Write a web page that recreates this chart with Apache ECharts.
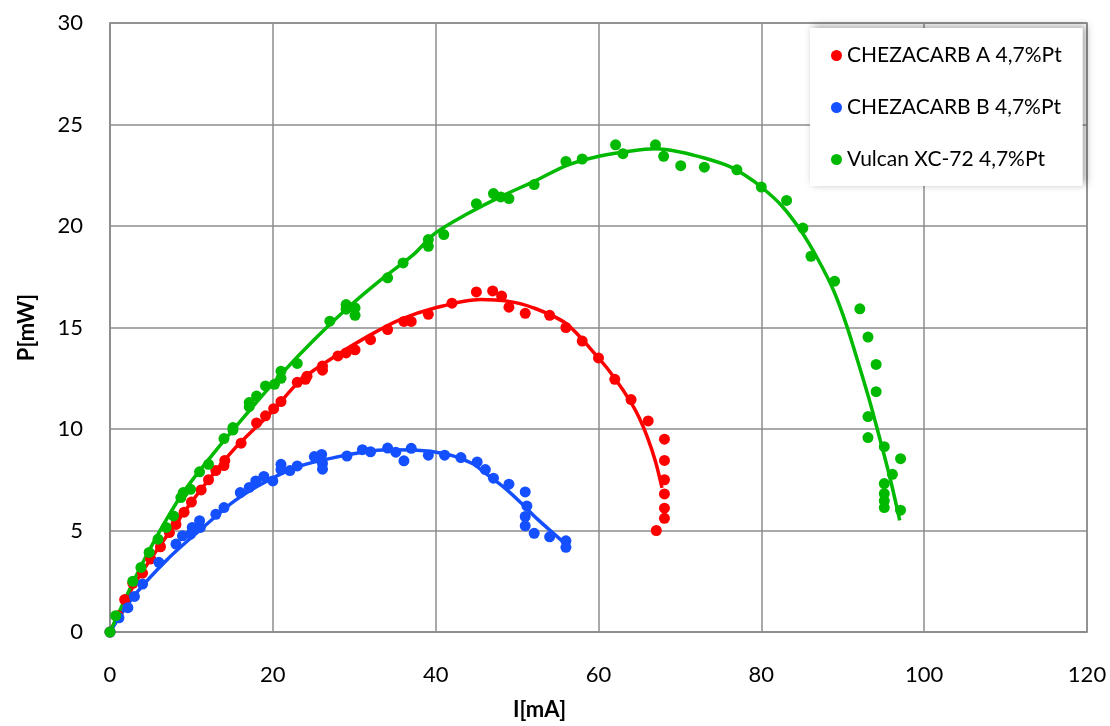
<!DOCTYPE html>
<html>
<head>
<meta charset="utf-8">
<script src="https://cdn.jsdelivr.net/npm/echarts@6/dist/echarts.min.js"></script>
<style>
  html, body { margin: 0; padding: 0; background: #ffffff; }
  #chart { width: 1110px; height: 726px; }
</style>
</head>
<body>
<div id="chart"></div>
<script>
// ---- axis ticks ----
const xMin = 0, xMax = 120, xStep = 20;
const yMin = 0, yMax = 30, yStep = 5;

// ---- series names ----
const seriesNames = ['CHEZACARB A 4,7%Pt', 'CHEZACARB B 4,7%Pt', 'Vulcan XC-72 4,7%Pt'];
const seriesColors = ['#ff0000', '#1450ff', '#00b900'];

// ---- measured points [I mA, P mW] ----
const redPts = [
  [0,0],[1,0.8],[1.8,1.6],[2.8,2.4],[4,2.9],[5,3.6],[6.2,4.2],[7.3,4.9],[8.1,5.3],[8.1,5.6],
  [9.1,5.9],[10,6.4],[11.2,7.0],[12.1,7.5],[13,7.95],[14,8.2],[14.1,8.45],[16.1,9.3],[18,10.3],
  [19.1,10.65],[20.1,11.0],[21,11.35],[23,12.3],[24,12.45],[24.2,12.6],[26.1,12.9],[26.1,13.1],
  [28,13.6],[29,13.75],[30.1,13.9],[32,14.4],[34.1,14.9],[36.1,15.3],[37,15.3],[39.1,15.65],
  [42,16.2],[45,16.75],[47,16.8],[48.1,16.55],[49,16.0],[51,15.7],[54,15.6],[56,15.0],[58,14.33],
  [60,13.5],[62,12.45],[64,11.45],[66.1,10.4],[68.1,9.5],[68.1,8.45],[68.1,7.5],[68.1,6.8],
  [68.1,6.1],[68.1,5.6],[67.1,5.0]
];
const bluePts = [
  [0,0],[1.1,0.7],[2.2,1.2],[3,1.75],[4,2.36],[6,3.43],[8.1,4.33],[8.9,4.74],[9.9,4.82],[10.1,5.15],
  [11.1,5.15],[11,5.48],[13,5.8],[14,6.13],[16,6.87],[17.1,7.12],[17.9,7.44],[18.9,7.66],[20,7.44],
  [21,8.26],[21,8.0],[22.1,7.95],[23,8.18],[25.1,8.64],[26,8.75],[26.1,8.3],[26.1,8.02],[29.1,8.67],
  [31,8.98],[32,8.88],[34.1,9.06],[35.1,8.86],[36.1,8.43],[37,9.05],[39.1,8.71],[41.1,8.71],
  [43.1,8.59],[45.1,8.38],[46.1,8.0],[47.1,7.58],[49,7.28],[51,6.9],[51.2,6.21],[51,5.69],[51,5.23],
  [52.1,4.86],[54,4.69],[56,4.49],[56,4.17]
];
const greenPts = [
  [0,0],[0.7,0.8],[2.8,2.5],[3.8,3.18],[4.8,3.92],[5.9,4.57],[6.9,5.15],[7.8,5.72],[8.7,6.62],[9,6.87],
  [9.9,7.03],[11,7.89],[12.1,8.26],[14,9.53],[15.1,10.07],[15.1,9.95],[17.1,11.3],[17.1,11.1],[18,11.62],
  [19.1,12.12],[20.2,12.2],[21,12.85],[21,12.5],[23,13.23],[27,15.31],[29,16.13],[29,15.9],[30.1,15.97],
  [30.1,15.6],[34.1,17.45],[36,18.18],[39.1,19.33],[39.1,19.0],[41,19.58],[45,21.1],[47.1,21.6],
  [48,21.43],[49,21.35],[52.1,22.04],[56,23.18],[58,23.3],[62.1,24.0],[63,23.56],[67,24.0],[68,23.43],
  [70.1,22.97],[73,22.9],[77,22.77],[80,21.92],[83.1,21.26],[85.1,19.9],[86.1,18.51],[89,17.28],
  [92.1,15.92],[93.1,14.53],[94.1,13.18],[94.1,11.84],[93.1,10.61],[93.1,9.58],[95.1,9.13],[97.1,8.54],
  [96.1,7.77],[95.1,7.31],[95.1,6.82],[95.1,6.46],[95.1,6.13],[97.1,6.0]
];

// ---- trend curves ----
const redFit = [
  [0,0],[2.5,2.0],[5,3.6],[10,6.4],[15,8.9],[20,10.9],[23.4,12.4],[27.5,13.55],[31.6,14.55],
  [35.7,15.4],[39.8,15.95],[45.5,16.38],[48.8,16.3],[52,15.97],[56,15.2],[60,13.5],[62,12.5],
  [64,11.3],[65,10.55],[66,9.6],[67,8.4],[67.8,7.1]
];
const blueFit = [
  [0,0],[3,1.8],[7.1,3.6],[11.2,5.07],[15.3,6.46],[19.3,7.44],[23.4,8.18],[27.5,8.59],[31,8.85],
  [34,8.98],[37.3,8.97],[41.4,8.76],[44.5,8.3],[46,7.85],[48.4,7.12],[50.5,6.35],[52.5,5.56],
  [54.5,4.85],[56.2,4.25]
];
const greenFit = [
  [0,0],[4,3.4],[8.7,6.7],[12.8,8.84],[16.9,10.8],[21,12.69],[25.1,14.41],[29.2,15.97],[33.3,17.36],
  [37.3,18.6],[39.8,19.6],[43.9,20.6],[48,21.45],[52.1,22.2],[56.2,23.0],[60.2,23.45],[64,23.7],
  [67,23.8],[70,23.65],[73,23.35],[76,22.95],[78,22.5],[80,21.92],[82.5,21.0],[84.8,19.8],[86.9,18.4],
  [88.9,16.8],[90.5,15.07],[92.1,13.0],[93.5,11.1],[94.7,9.3],[95.8,7.6],[97,5.5]
];

const FONT = 'Lato';
const chart = echarts.init(document.getElementById('chart'));

function fitSeries(data, color) {
  return {
    type: 'line', data: data, smooth: 0.3, showSymbol: false, silent: true,
    lineStyle: { color: color, width: 3.5 }, z: 2
  };
}
function ptSeries(name, data, color) {
  return {
    name: name, type: 'scatter', data: data, symbol: 'circle', symbolSize: 11,
    itemStyle: { color: color, opacity: 1 }, z: 3
  };
}

chart.setOption({
  animation: false,
  backgroundColor: '#ffffff',
  grid: {
    left: 110, right: 23, top: 23, bottom: 93,
    show: true, borderColor: '#8c8c8c', borderWidth: 1.5, backgroundColor: 'transparent'
  },
  legend: {
    data: seriesNames,
    orient: 'vertical',
    left: 810, top: 28,
    padding: [17, 21, 16, 21],
    itemGap: 31,
    itemWidth: 11, itemHeight: 11,
    icon: 'circle',
    backgroundColor: '#ffffff',
    shadowBlur: 8, shadowColor: 'rgba(0,0,0,0.35)', shadowOffsetX: 3, shadowOffsetY: -2,
    textStyle: { fontFamily: FONT, fontSize: 21, color: '#000000' }
  },
  xAxis: {
    type: 'value', min: xMin, max: xMax, interval: xStep,
    name: 'I[mA]', nameLocation: 'middle', nameGap: 67,
    nameTextStyle: { fontFamily: FONT, fontSize: 22, fontWeight: 'bold', color: '#000', padding: [0, 118, 0, 0] },
    axisLine: { show: true, lineStyle: { color: '#8c8c8c', width: 1.5 } },
    axisTick: { show: false },
    axisLabel: { fontFamily: FONT, fontSize: 22, color: '#000', margin: 32 },
    splitLine: { show: true, lineStyle: { color: '#8c8c8c', width: 1.5 } }
  },
  yAxis: {
    type: 'value', min: yMin, max: yMax, interval: yStep,
    name: 'P[mW]', nameLocation: 'middle', nameGap: 72, nameRotate: 90,
    nameTextStyle: { fontFamily: FONT, fontSize: 22, fontWeight: 'bold', color: '#000' },
    axisLine: { show: true, lineStyle: { color: '#8c8c8c', width: 1.5 } },
    axisTick: { show: false },
    axisLabel: { fontFamily: FONT, fontSize: 22, color: '#000', margin: 27 },
    splitLine: { show: true, lineStyle: { color: '#8c8c8c', width: 1.5 } }
  },
  series: [
    fitSeries(redFit, seriesColors[0]),
    fitSeries(blueFit, seriesColors[1]),
    fitSeries(greenFit, seriesColors[2]),
    ptSeries(seriesNames[0], redPts, seriesColors[0]),
    ptSeries(seriesNames[1], bluePts, seriesColors[1]),
    ptSeries(seriesNames[2], greenPts, seriesColors[2])
  ]
});
</script>
</body>
</html>
